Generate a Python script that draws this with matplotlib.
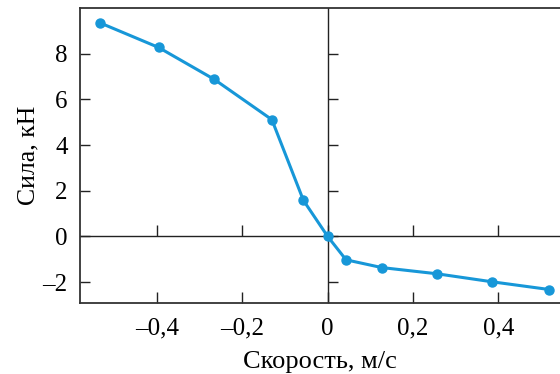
import matplotlib
matplotlib.use('Agg')
import matplotlib.pyplot as plt
from matplotlib.markers import TICKUP, TICKRIGHT

# скорость, м/с и сила, кН
speed = [-0.535, -0.397, -0.266, -0.131, -0.057, 0.0, 0.043, 0.127, 0.256, 0.385, 0.520]
force = [9.35, 8.27, 6.87, 5.11, 1.58, 0.0, -1.02, -1.36, -1.63, -1.98, -2.32]

xticks = [-0.4, -0.2, 0, 0.2, 0.4]
xlabels = ['–0,4', '–0,2', '0', '0,2', '0,4']
yticks = [-2, 0, 2, 4, 6, 8]
ylabels = ['–2', '0', '2', '4', '6', '8']

plt.rcParams['font.family'] = ['Liberation Serif', 'DejaVu Serif']

fig = plt.figure(figsize=(5.6, 3.74), dpi=100)
ax = fig.add_axes([0.143, 0.191, 0.857, 0.788])

line_color = '#1797d8'
axis_color = '#222222'

ax.axhline(0, color=axis_color, lw=1.0, zorder=1)
ax.axvline(0, color=axis_color, lw=1.0, zorder=1)
# засечки на нулевых линиях
ax.plot(xticks, [0] * len(xticks), ls='none', marker=TICKUP, ms=8, mew=1.0, color=axis_color, zorder=1)
ax.plot([0] * len(yticks), yticks, ls='none', marker=TICKRIGHT, ms=7, mew=1.0, color=axis_color, zorder=1)

ax.plot(speed, force, color=line_color, lw=2.2, marker='o', ms=6.5, zorder=3)

ax.set_xlim(-0.581, 0.545)
ax.set_ylim(-2.89, 10.0)
ax.set_xticks(xticks)
ax.set_xticklabels(xlabels)
ax.set_yticks(yticks)
ax.set_yticklabels(ylabels)
ax.tick_params(direction='in', length=8, width=1.0, color=axis_color, labelsize=18, pad=11)
ax.tick_params(axis='y', length=7, pad=9)

for s in ['left', 'top', 'bottom']:
    ax.spines[s].set_color('#333333')
    ax.spines[s].set_linewidth(1.3)
ax.spines['right'].set_visible(False)

ax.set_xlabel('Скорость, м/с', fontsize=19, labelpad=8)
ax.set_ylabel('Сила, кН', fontsize=18.5, labelpad=2)

fig.savefig('out.png', dpi=100)
